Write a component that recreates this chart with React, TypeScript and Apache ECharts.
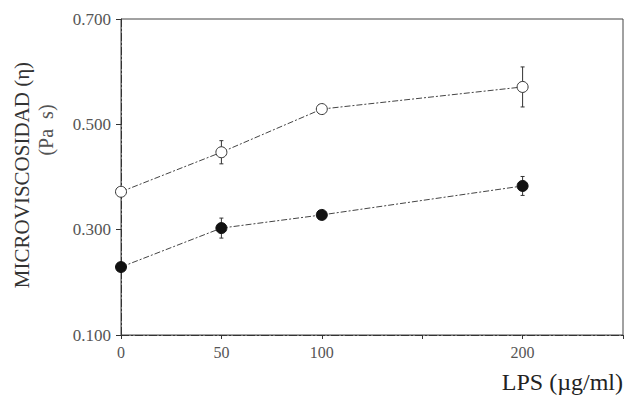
import React, { useEffect, useRef } from "react";
import * as echarts from "echarts";

const lpsDoses = [0, 50, 100, 200];
const openValues = [0.372, 0.447, 0.529, 0.571];
const openErrors = [0.0, 0.022, 0.0, 0.038];
const filledValues = [0.229, 0.303, 0.328, 0.383];
const filledErrors = [0.0, 0.019, 0.0, 0.018];
const yTicks = [0.1, 0.3, 0.5, 0.7];
const xTickLabels = ["0", "50", "100", "200"];

const errorSeries = (vals: number[], errs: number[], name: string) => ({
  name,
  type: "custom",
  silent: true,
  z: 1,
  data: lpsDoses.map((x, i) => [x, vals[i] - errs[i], vals[i] + errs[i]]),
  renderItem: (params: any, api: any) => {
    const x = api.value(0);
    const lo = api.coord([x, api.value(1)]);
    const hi = api.coord([x, api.value(2)]);
    if (Math.abs(hi[1] - lo[1]) < 1) return { type: "group", children: [] };
    const style = { stroke: "#333", lineWidth: 1 };
    return {
      type: "group",
      children: [
        { type: "line", shape: { x1: lo[0], y1: lo[1], x2: hi[0], y2: hi[1] }, style },
        { type: "line", shape: { x1: lo[0] - 2, y1: lo[1], x2: lo[0] + 2, y2: lo[1] }, style },
        { type: "line", shape: { x1: hi[0] - 2, y1: hi[1], x2: hi[0] + 2, y2: hi[1] }, style },
      ],
    };
  },
});

export default function App() {
  const ref = useRef<HTMLDivElement>(null);
  useEffect(() => {
    if (!ref.current) return;
    const chart = echarts.init(ref.current, null, { renderer: "svg" });
    const axisColor = "#333";
    chart.setOption({
      animation: false,
      backgroundColor: "#fff",
      grid: {
        left: 121,
        top: 19,
        right: 5,
        bottom: 74,
        show: true,
        borderColor: "#444",
        borderWidth: 1,
      },
      xAxis: {
        type: "value",
        min: 0,
        max: 250,
        interval: 50,
        axisLine: { show: true, lineStyle: { color: axisColor, type: [8, 2, 2, 2] } },
        axisTick: { show: true, length: 4, lineStyle: { color: axisColor } },
        splitLine: { show: false },
        axisLabel: {
          color: "#555",
          fontFamily: "Liberation Serif",
          fontSize: 16,
          margin: 9,
          formatter: (v: number) => (xTickLabels.includes(String(v)) ? String(v) : ""),
        },
        name: "LPS (\u00b5g/ml)",
        nameLocation: "end",
        nameGap: 0,
        nameTextStyle: {
          color: "#222",
          fontFamily: "Liberation Serif",
          fontSize: 24,
          align: "right",
          verticalAlign: "top",
          padding: [35, 0, 0, 0],
        },
      },
      yAxis: {
        type: "value",
        min: 0.1,
        max: 0.7,
        interval: 0.2,
        axisLine: { show: true, lineStyle: { color: axisColor, type: [8, 2, 2, 2] } },
        axisTick: { show: true, length: 5, lineStyle: { color: axisColor } },
        splitLine: { show: false },
        axisLabel: {
          color: "#555",
          fontFamily: "Liberation Serif",
          fontSize: 17,
          margin: 10,
          formatter: (v: number) => {
            const t = yTicks.find((y) => Math.abs(y - v) < 1e-6);
            return t !== undefined ? t.toFixed(3) : "";
          },
        },
      },
      graphic: [
        {
          type: "text",
          x: 22,
          y: 175,
          rotation: Math.PI / 2,
          style: {
            text: "MICROVISCOSIDAD (\u03b7)",
            fontFamily: "Liberation Serif",
            fontSize: 21,
            fill: "#333",
            align: "center",
            verticalAlign: "middle",
          },
        },
        {
          type: "text",
          x: 46,
          y: 130,
          rotation: Math.PI / 2,
          style: {
            text: "(Pa  s)",
            fontFamily: "Liberation Serif",
            fontSize: 20,
            fill: "#555",
            align: "center",
            verticalAlign: "middle",
          },
        },
      ],
      series: [
        errorSeries(openValues, openErrors, "openErr"),
        errorSeries(filledValues, filledErrors, "filledErr"),
        {
          name: "open",
          type: "line",
          z: 3,
          data: lpsDoses.map((x, i) => [x, openValues[i]]),
          symbol: "circle",
          symbolSize: 11,
          itemStyle: { color: "#fff", borderColor: "#333", borderWidth: 1 },
          lineStyle: { color: "#444", width: 1, type: [6, 2, 2, 2] },
        },
        {
          name: "filled",
          type: "line",
          z: 3,
          data: lpsDoses.map((x, i) => [x, filledValues[i]]),
          symbol: "circle",
          symbolSize: 11,
          itemStyle: { color: "#111", borderColor: "#111", borderWidth: 1 },
          lineStyle: { color: "#444", width: 1, type: [6, 2, 2, 2] },
        },
      ],
    });
    return () => chart.dispose();
  }, []);
  return <div ref={ref} style={{ width: 628, height: 409, position: "absolute", left: 0, top: 0 }} />;
}
